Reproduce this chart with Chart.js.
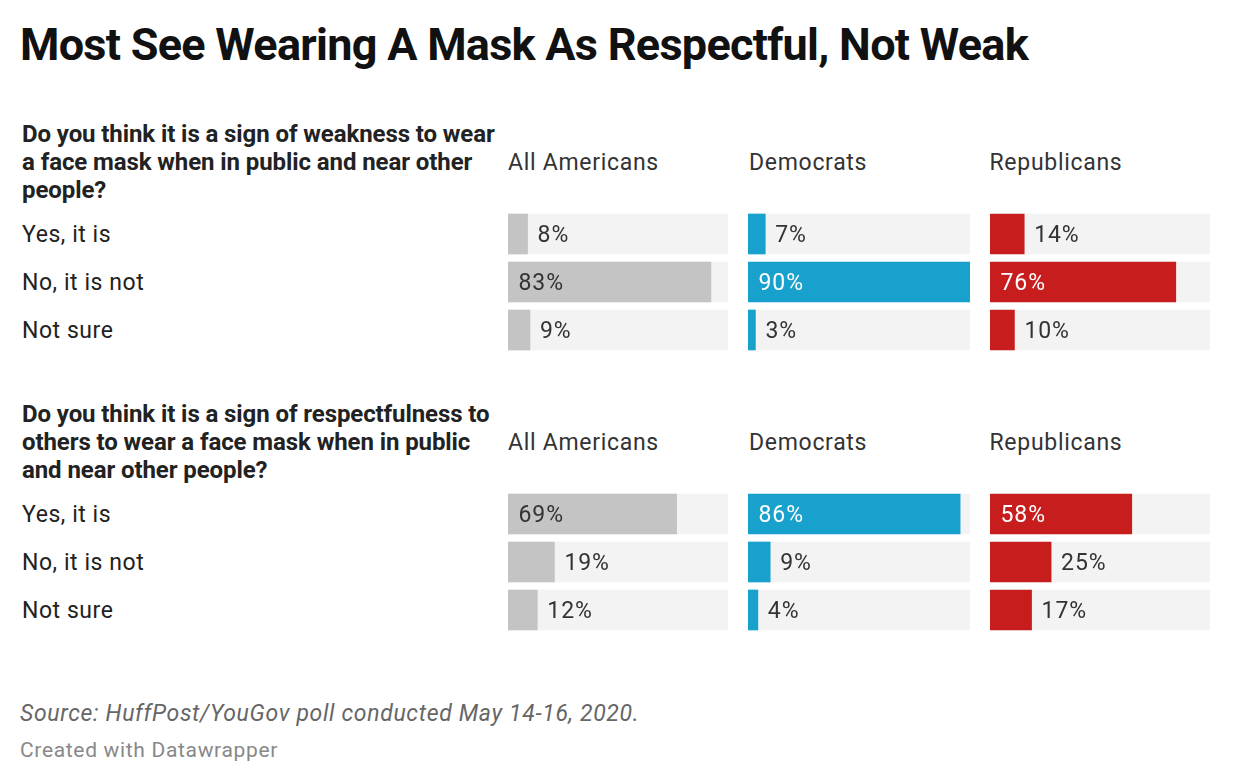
<!DOCTYPE html>
<html>
<head>
<meta charset="utf-8">
<script src="https://cdn.jsdelivr.net/npm/chart.js@4"></script>
<style>
html,body{margin:0;padding:0;background:#fff;width:1240px;height:784px;overflow:hidden;font-family:Roboto,sans-serif;}
.t{position:absolute;white-space:nowrap;margin:0;}
#title{left:20px;top:18px;font-size:45px;font-weight:700;line-height:54px;color:#111;letter-spacing:-.72px;}
.q{left:22px;font-size:24px;font-weight:700;line-height:28px;color:#222;letter-spacing:-.09px;}
.h{font-size:23px;line-height:28px;color:#333;letter-spacing:.7px;}
.r{left:22px;font-size:23px;line-height:28px;color:#222;letter-spacing:.55px;}
#src{left:20px;top:700px;font-size:23px;font-style:italic;line-height:28px;color:#666;letter-spacing:.66px;}
#cr{left:20px;top:737px;font-size:21px;line-height:26px;color:#888;letter-spacing:.67px;}
canvas{position:absolute;}
.c{position:absolute;}
</style>
</head>
<body>
<div id="root"></div>
<script>
const titleText = "Most See Wearing A Mask As Respectful, Not Weak";
const question1 = ["Do you think it is a sign of weakness to wear","a face mask when in public and near other","people?"];
const question2 = ["Do you think it is a sign of respectfulness to","others to wear a face mask when in public","and near other people?"];
const answers = ["Yes, it is","No, it is not","Not sure"];
const groups = ["All Americans","Democrats","Republicans"];
const groupColors = ["#c4c4c4","#18a1cd","#c71e1d"];
const q1All = [8,83,9];
const q1Dem = [7,90,3];
const q1Rep = [14,76,10];
const q2All = [69,19,12];
const q2Dem = [86,9,4];
const q2Rep = [58,25,17];
const scaleMax = 90;
const trackColor = "#f3f3f3";
const sourceText = "Source: HuffPost/YouGov poll conducted May 14-16, 2020.";
const creditText = "Created with Datawrapper";

const root = document.getElementById("root");
function addText(id, cls, text, left, top){
  const d = document.createElement("div");
  d.className = "t " + cls;
  if(id) d.id = id;
  d.textContent = text;
  if(left!==null) d.style.left = left + "px";
  if(top!==null) d.style.top = top + "px";
  root.appendChild(d);
}
addText("title","",titleText,null,null);
question1.forEach((s,i)=>addText("","q",s,null,120+i*28));
question2.forEach((s,i)=>addText("","q",s,null,400+i*28));
const headerX = [508,749,989.5];
groups.forEach((g,i)=>{addText("","h",g,headerX[i],149);addText("","h",g,headerX[i],429);});
answers.forEach((a,i)=>{addText("","r",a,null,221+i*48);addText("","r",a,null,501+i*48);});
addText("src","",sourceText,null,null);
addText("cr","",creditText,null,null);

const valueLabels = {
  id:"valueLabels",
  afterDatasetsDraw(chart){
    const ctx = chart.ctx, meta = chart.getDatasetMeta(0), x = chart.scales.x;
    const vals = chart.data.datasets[0].data;
    const dark = chart.data.datasets[0].backgroundColor === groupColors[0];
    ctx.save();
    ctx.font = "23px Roboto";
    if("letterSpacing" in ctx) ctx.letterSpacing = "0.9px";
    ctx.textBaseline = "middle";
    ctx.textAlign = "left";
    vals.forEach((v,i)=>{
      const inside = v > 40;
      const px = inside ? x.getPixelForValue(0)+10.5 : x.getPixelForValue(v)+10;
      ctx.fillStyle = inside && !dark ? "#ffffff" : "#333333";
      ctx.fillText(v+"%", px, meta.data[i].y+2);
    });
    ctx.restore();
  }
};
function panel(values, color, left, width, top){
  const wrap = document.createElement("div");
  wrap.className = "c";
  wrap.style.cssText = `left:${left}px;top:${top}px;width:${width}px;height:144px;`;
  const cv = document.createElement("canvas");
  wrap.appendChild(cv);
  root.appendChild(wrap);
  new Chart(cv,{
    type:"bar",
    data:{labels:answers,datasets:[
      {data:values,backgroundColor:color,barThickness:40,order:1,borderWidth:0},
      {data:answers.map(()=>scaleMax),backgroundColor:trackColor,barThickness:40,order:2,borderWidth:0}
    ]},
    options:{
      indexAxis:"y",responsive:true,maintainAspectRatio:false,animation:false,
      layout:{padding:0},
      plugins:{legend:{display:false},tooltip:{enabled:false}},
      datasets:{bar:{grouped:false}},
      scales:{
        x:{display:false,min:0,max:scaleMax},
        y:{display:false}
      }
    },
    plugins:[valueLabels]
  });
}
const panelX = [508,748,990];
const panelW = [220,222,220];
[q1All,q1Dem,q1Rep].forEach((v,i)=>panel(v,groupColors[i],panelX[i],panelW[i],210));
[q2All,q2Dem,q2Rep].forEach((v,i)=>panel(v,groupColors[i],panelX[i],panelW[i],490));
</script>
</body>
</html>
